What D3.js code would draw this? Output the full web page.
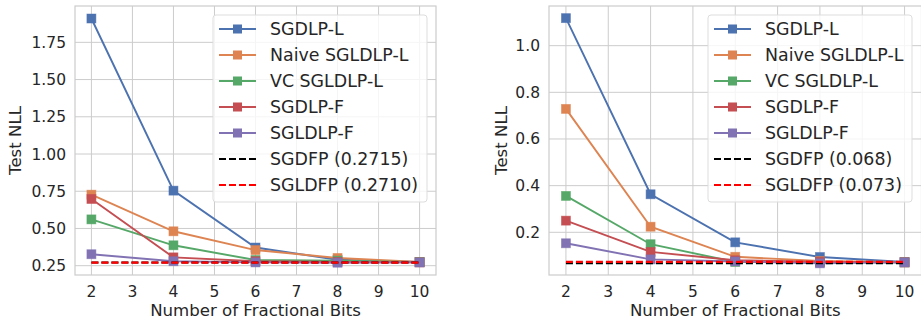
<!DOCTYPE html>
<meta charset="utf-8">
<html>
<head>
<script src="https://d3js.org/d3.v7.min.js"></script>
<style>
    body { margin: 0; background: white; }
    text { font-family: "DejaVu Sans", sans-serif; fill: #262626; }
</style>
</head>
<body>
<div id="chart"></div>
<script>
// data
const bits = [2, 4, 6, 8, 10];
const xTicks = [2, 3, 4, 5, 6, 7, 8, 9, 10];
const seriesNames = ["SGDLP-L", "Naive SGLDLP-L", "VC SGLDLP-L", "SGDLP-F", "SGLDLP-F"];
const seriesColors = ["#4C72B0", "#DD8452", "#55A868", "#C44E52", "#8172B3"];

// left panel
const leftSgdlpL  = [1.91, 0.754, 0.372, 0.290, 0.275];
const leftNaive   = [0.727, 0.481, 0.355, 0.302, 0.275];
const leftVc      = [0.561, 0.387, 0.288, 0.284, 0.274];
const leftSgdlpF  = [0.698, 0.306, 0.280, 0.275, 0.272];
const leftSgldlpF = [0.327, 0.280, 0.272, 0.270, 0.272];
const leftRefNames = ["SGDFP (0.2715)", "SGLDFP (0.2710)"];
const leftRefValues = [0.2715, 0.2710];
const leftYTicks = [0.25, 0.5, 0.75, 1.0, 1.25, 1.5, 1.75];

// right panel
const rightSgdlpL  = [1.118, 0.363, 0.157, 0.094, 0.073];
const rightNaive   = [0.729, 0.224, 0.095, 0.077, 0.072];
const rightVc      = [0.356, 0.149, 0.073, 0.072, 0.071];
const rightSgdlpF  = [0.250, 0.116, 0.080, 0.074, 0.071];
const rightSgldlpF = [0.153, 0.084, 0.075, 0.067, 0.071];
const rightRefNames = ["SGDFP (0.068)", "SGLDFP (0.073)"];
const rightRefValues = [0.068, 0.073];
const rightYTicks = [0.2, 0.4, 0.6, 0.8, 1.0];

const refColors = ["#000000", "#ff0000"];

const W = 921, H = 320;
const svg = d3.select("#chart").append("svg")
    .attr("width", W).attr("height", H);

function drawPanel(p) {
    var x = d3.scaleLinear().domain([1.6, 10.4]).range([p.left, p.right]);
    var y = d3.scaleLinear().domain(p.yDomain).range([p.bottom, p.top]);
    var g = svg.append("g");

    // grid
    g.selectAll(".gx").data(xTicks).enter().append("line")
        .attr("x1", d => x(d)).attr("x2", d => x(d))
        .attr("y1", p.top).attr("y2", p.bottom)
        .attr("stroke", "#cccccc").attr("stroke-width", 1);
    g.selectAll(".gy").data(p.yTicks).enter().append("line")
        .attr("x1", p.left).attr("x2", p.right)
        .attr("y1", d => y(d)).attr("y2", d => y(d))
        .attr("stroke", "#cccccc").attr("stroke-width", 1);

    // spines
    g.append("rect")
        .attr("x", p.left).attr("y", p.top)
        .attr("width", p.right - p.left).attr("height", p.bottom - p.top)
        .attr("fill", "none").attr("stroke", "#cccccc").attr("stroke-width", 1.2);

    // tick labels
    g.selectAll(".tx").data(xTicks).enter().append("text")
        .attr("x", d => x(d)).attr("y", p.bottom + 22)
        .attr("text-anchor", "middle").style("font-size", "15.5px")
        .text(d => d);
    g.selectAll(".ty").data(p.yTicks).enter().append("text")
        .attr("x", p.left - 9).attr("y", d => y(d) + 5.5)
        .attr("text-anchor", "end").style("font-size", "15.5px")
        .text(d => d3.format(p.fmt)(d));

    // axis labels
    g.append("text")
        .attr("x", (p.left + p.right) / 2).attr("y", p.bottom + 41)
        .attr("text-anchor", "middle").style("font-size", "16.6px")
        .text("Number of Fractional Bits");
    g.append("text")
        .attr("transform", "translate(" + (p.ylabelX) + "," + ((p.top + p.bottom) / 2) + ") rotate(-90)")
        .attr("text-anchor", "middle").style("font-size", "16.6px")
        .text("Test NLL");

    var clip = "clip" + p.id;
    svg.append("clipPath").attr("id", clip).append("rect")
        .attr("x", p.left).attr("y", p.top)
        .attr("width", p.right - p.left).attr("height", p.bottom - p.top);
    var plot = g.append("g").attr("clip-path", "url(#" + clip + ")");

    var line = d3.line().x((d, i) => x(bits[i])).y(d => y(d));

    p.series.forEach(function(vals, k) {
        plot.append("path").datum(vals)
            .attr("d", line)
            .attr("fill", "none")
            .attr("stroke", seriesColors[k]).attr("stroke-width", 1.9);
        plot.selectAll(".m" + k).data(vals).enter().append("rect")
            .attr("x", (d, i) => x(bits[i]) - 4.5)
            .attr("y", d => y(d) - 4.5)
            .attr("width", 9).attr("height", 9)
            .attr("fill", seriesColors[k])
            .attr("stroke", seriesColors[k]).attr("stroke-opacity", 0.6)
            .attr("stroke-width", 0.8);
    });

    p.refValues.forEach(function(v, k) {
        plot.append("line")
            .attr("x1", x(bits[0])).attr("x2", x(bits[bits.length - 1]))
            .attr("y1", y(v)).attr("y2", y(v))
            .attr("stroke", refColors[k]).attr("stroke-width", 2.2)
            .attr("stroke-dasharray", "7,3");
    });

    // legend
    var lg = g.append("g");
    lg.append("rect")
        .attr("x", p.legX).attr("y", 15)
        .attr("width", p.legW).attr("height", 187)
        .attr("rx", 3)
        .attr("fill", "white").attr("fill-opacity", 0.8)
        .attr("stroke", "#dddddd").attr("stroke-width", 1);
    var names = seriesNames.concat(p.refNames);
    names.forEach(function(nm, k) {
        var yy = 29 + k * 26;
        var hx = p.legX + 6;
        if (k < seriesNames.length) {
            lg.append("line")
                .attr("x1", hx).attr("x2", hx + 37)
                .attr("y1", yy).attr("y2", yy)
                .attr("stroke", seriesColors[k]).attr("stroke-width", 1.9);
            lg.append("rect")
                .attr("x", hx + 18.5 - 4.5).attr("y", yy - 4.5)
                .attr("width", 9).attr("height", 9)
                .attr("fill", seriesColors[k]);
        } else {
            lg.append("line")
                .attr("x1", hx).attr("x2", hx + 37)
                .attr("y1", yy).attr("y2", yy)
                .attr("stroke", refColors[k - seriesNames.length]).attr("stroke-width", 2.2)
                .attr("stroke-dasharray", "7,3");
        }
        lg.append("text")
            .attr("x", hx + 51).attr("y", yy + 6)
            .style("font-size", "17.4px")
            .text(nm);
    });
}

drawPanel({
    id: "L", left: 75, right: 436, top: 6, bottom: 275,
    yDomain: [0.1875, 1.994], yTicks: leftYTicks, fmt: ".2f",
    ylabelX: 21,
    series: [leftSgdlpL, leftNaive, leftVc, leftSgdlpF, leftSgldlpF],
    refValues: leftRefValues, refNames: leftRefNames,
    legX: 213, legW: 214
});

drawPanel({
    id: "R", left: 549, right: 921.5, top: 6, bottom: 275,
    yDomain: [0.017, 1.170], yTicks: rightYTicks, fmt: ".1f",
    ylabelX: 507,
    series: [rightSgdlpL, rightNaive, rightVc, rightSgdlpF, rightSgldlpF],
    refValues: rightRefValues, refNames: rightRefNames,
    legX: 708, legW: 204
});
</script>
</body>
</html>
